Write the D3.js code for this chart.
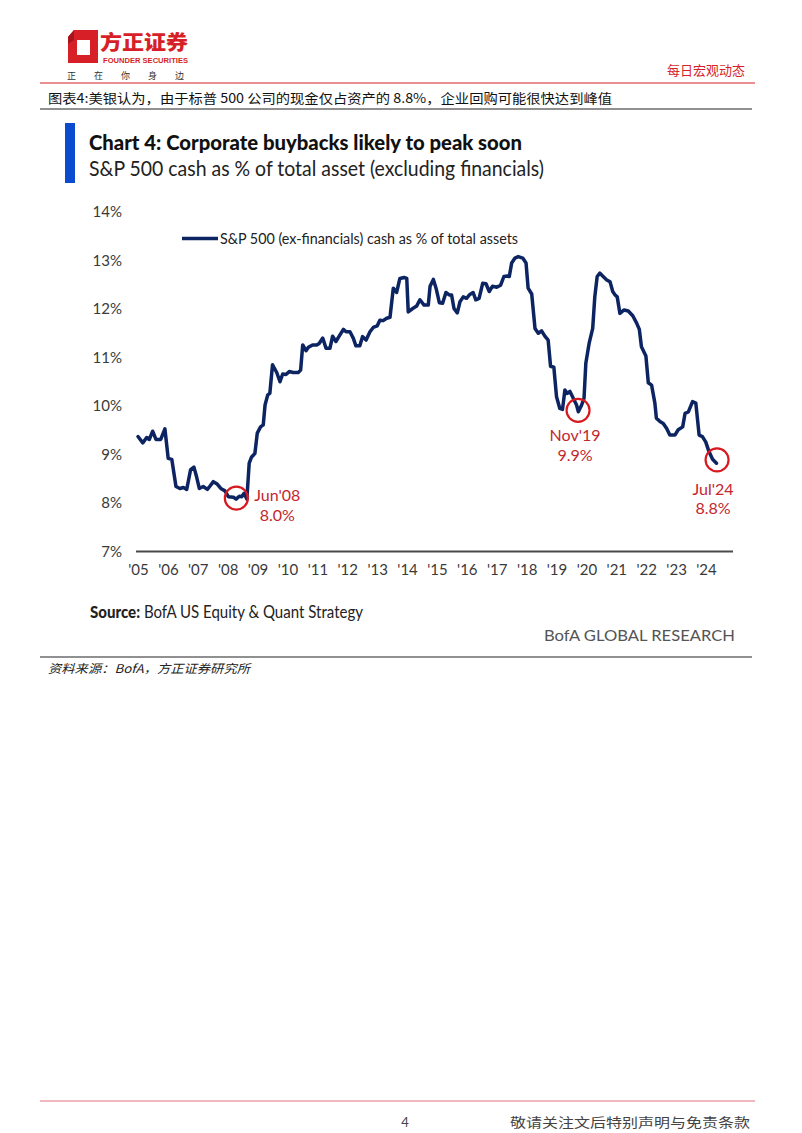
<!DOCTYPE html>
<html><head><meta charset="utf-8">
<script src="https://cdn.jsdelivr.net/npm/d3@7"></script>
<style>
html,body{margin:0;padding:0;background:#fff;}
svg{display:block;}
</style></head>
<body>
<script>
// ---------- DATA ----------
const years = [2005.00,2005.16,2005.29,2005.38,2005.49,2005.60,2005.76,2005.90,2006.01,2006.13,2006.27,2006.40,2006.52,2006.63,2006.76,2006.87,2006.96,2007.05,2007.18,2007.32,2007.41,2007.52,2007.65,2007.77,2007.91,2008.02,2008.19,2008.28,2008.39,2008.47,2008.55,2008.64,2008.72,2008.80,2008.91,2008.99,2009.10,2009.19,2009.25,2009.34,2009.41,2009.50,2009.64,2009.75,2009.84,2009.95,2010.06,2010.19,2010.36,2010.44,2010.51,2010.62,2010.70,2010.84,2010.98,2011.06,2011.18,2011.29,2011.42,2011.51,2011.62,2011.73,2011.87,2011.96,2012.09,2012.20,2012.29,2012.42,2012.51,2012.63,2012.76,2012.87,2013.00,2013.09,2013.20,2013.32,2013.43,2013.54,2013.65,2013.76,2013.90,2013.99,2014.04,2014.19,2014.32,2014.43,2014.57,2014.71,2014.77,2014.88,2014.97,2015.08,2015.19,2015.30,2015.41,2015.49,2015.57,2015.68,2015.77,2015.88,2015.99,2016.10,2016.21,2016.30,2016.41,2016.53,2016.64,2016.75,2016.86,2017.00,2017.13,2017.24,2017.35,2017.42,2017.50,2017.61,2017.72,2017.87,2017.98,2018.05,2018.17,2018.28,2018.39,2018.50,2018.61,2018.72,2018.80,2018.91,2019.00,2019.11,2019.20,2019.28,2019.36,2019.45,2019.56,2019.67,2019.73,2019.84,2019.92,2019.98,2020.09,2020.21,2020.28,2020.36,2020.45,2020.56,2020.68,2020.79,2020.88,2020.96,2021.03,2021.12,2021.26,2021.40,2021.55,2021.68,2021.77,2021.84,2021.99,2022.07,2022.18,2022.29,2022.34,2022.46,2022.57,2022.68,2022.79,2022.96,2023.07,2023.22,2023.30,2023.41,2023.55,2023.66,2023.77,2023.88,2023.99,2024.10,2024.22,2024.35];
const cashPct = [9.37,9.24,9.35,9.31,9.48,9.31,9.31,9.53,8.92,8.90,8.34,8.30,8.32,8.28,8.69,8.74,8.54,8.30,8.34,8.28,8.35,8.44,8.39,8.30,8.25,8.13,8.12,8.08,8.14,8.13,8.20,8.08,8.82,8.95,9.02,9.44,9.57,9.61,10.02,10.23,10.26,10.85,10.69,10.50,10.66,10.65,10.71,10.69,10.69,10.74,11.26,11.14,11.21,11.26,11.26,11.29,11.40,11.19,11.19,11.44,11.33,11.44,11.58,11.53,11.53,11.40,11.24,11.24,11.43,11.36,11.53,11.62,11.65,11.77,11.76,11.81,11.83,12.43,12.34,12.63,12.65,12.63,11.94,12.01,12.06,12.19,12.08,12.08,12.47,12.61,12.43,12.13,12.12,12.34,12.29,12.29,12.01,11.92,12.15,12.25,12.22,12.30,12.34,12.19,12.22,12.53,12.52,12.36,12.47,12.45,12.49,12.67,12.68,12.67,12.95,13.05,13.08,13.05,12.95,12.43,12.31,11.60,11.50,11.55,11.44,11.36,10.82,10.80,10.19,9.95,9.93,10.33,10.26,10.30,10.16,10.02,9.88,10.02,10.16,10.88,11.29,11.60,12.25,12.67,12.74,12.67,12.60,12.56,12.36,12.29,12.25,11.91,11.98,11.96,11.86,11.71,11.58,11.22,11.03,10.48,10.43,10.06,9.75,9.68,9.64,9.54,9.40,9.40,9.51,9.57,9.85,9.88,10.09,10.06,9.40,9.37,9.26,9.06,8.90,8.82];
const yTicks = [7,8,9,10,11,12,13,14];
const yTickLabels = ["7%","8%","9%","10%","11%","12%","13%","14%"];
const xTicks = [2005,2006,2007,2008,2009,2010,2011,2012,2013,2014,2015,2016,2017,2018,2019,2020,2021,2022,2023,2024];
const xTickLabels = ["'05","'06","'07","'08","'09","'10","'11","'12","'13","'14","'15","'16","'17","'18","'19","'20","'21","'22","'23","'24"];
const annoYears = [2008.29, 2019.72, 2024.37];
const annoValues = [8.10, 9.91, 8.89];
const annoNames = ["Jun'08","Nov'19","Jul'24"];
const annoPcts = ["8.0%","9.9%","8.8%"];
const seriesName = "S&P 500 (ex-financials) cash as % of total assets";

// ---------- SETUP ----------
const W = 802, H = 1133;
const svg = d3.select("body").append("svg").attr("width", W).attr("height", H);
const LAT = "Lato, 'Open Sans', sans-serif";
const CJK = "'Noto Sans CJK SC', sans-serif";
function fit(sel, w){ sel.attr("textLength", w).attr("lengthAdjust","spacingAndGlyphs"); return sel; }

// ---------- PAGE HEADER ----------
const red = "#d71f27";
svg.append("path").attr("d","M74,30 L98,30 L98,63 L68,63 L68,37 Z").attr("fill", red);
svg.append("rect").attr("x",77).attr("y",40).attr("width",13).attr("height",15).attr("fill","#fff");
svg.append("path").attr("d","M68,37 L74,30 L74,40 L68,44 Z").attr("fill","#a8141b");
svg.append("text").attr("x",100).attr("y",50).attr("font-family",CJK).attr("font-weight",900)
  .attr("font-size",20).attr("fill",red).text("方正证券").call(fit, 88);
svg.append("text").attr("x",103).attr("y",63).attr("font-family","'Liberation Sans', Arial, sans-serif").attr("font-weight",700)
  .attr("font-size",7).attr("fill",red).text("FOUNDER SECURITIES").call(fit, 85);
const slogan = ["正","在","你","身","边"];
slogan.forEach((c,i)=> svg.append("text").attr("x",67+i*27).attr("y",79).attr("font-family",CJK)
  .attr("font-size",9).attr("fill","#333").text(c));
svg.append("text").attr("x",745).attr("y",75).attr("text-anchor","end").attr("font-family",CJK)
  .attr("font-size",13).attr("fill",red).text("每日宏观动态");
svg.append("line").attr("x1",40).attr("x2",755).attr("y1",83).attr("y2",83).attr("stroke",red).attr("stroke-width",1.2);

// caption
svg.append("text").attr("x",48).attr("y",103).attr("font-family",CJK).attr("font-size",13).attr("fill","#111")
  .text("图表4:美银认为，由于标普 500 公司的现金仅占资产的 8.8%，企业回购可能很快达到峰值").call(fit, 564);
svg.append("line").attr("x1",40).attr("x2",752).attr("y1",109).attr("y2",109).attr("stroke","#222").attr("stroke-width",1.2);

// ---------- CHART TITLE ----------
svg.append("rect").attr("x",65).attr("y",123).attr("width",10).attr("height",60).attr("fill","#0a4bd0");
svg.append("text").attr("x",89).attr("y",150).attr("font-family",LAT).attr("font-weight",900)
  .attr("font-size",21).attr("fill","#111").text("Chart 4: Corporate buybacks likely to peak soon").call(fit, 433);
svg.append("text").attr("x",89).attr("y",176).attr("font-family",LAT)
  .attr("font-size",21.5).attr("fill","#222").text("S&P 500 cash as % of total asset (excluding financials)").call(fit, 455);

// ---------- SCALES ----------
const x = d3.scaleLinear().domain([2005, 2024]).range([138, 706]);
const y = d3.scaleLinear().domain([7, 14]).range([551.5, 212]);

// y axis
const yAx = svg.append("g").attr("transform","translate(122,0)")
  .call(d3.axisLeft(y).tickValues(yTicks).tickSize(0).tickPadding(0).tickFormat((d,i)=>yTickLabels[i]));
yAx.select(".domain").remove();
yAx.selectAll("text").attr("font-family",LAT).attr("font-size",15).attr("fill","#3a3a3a");

// x axis
const xAx = svg.append("g").attr("transform","translate(0,560)")
  .call(d3.axisBottom(x).tickValues(xTicks).tickSize(0).tickPadding(0).tickFormat((d,i)=>xTickLabels[i]));
xAx.select(".domain").remove();
xAx.selectAll("text").attr("font-family",LAT).attr("font-size",15).attr("fill","#3a3a3a").attr("dy","1em");
svg.append("line").attr("x1",136).attr("x2",733).attr("y1",y(7)).attr("y2",y(7)).attr("stroke","#4a4a4a").attr("stroke-width",2);

// ---------- LINE ----------
const pts = years.map((yr,i)=>[yr, cashPct[i]]);
const line = d3.line().x(d=>x(d[0])).y(d=>y(d[1]));
svg.append("path").attr("d", line(pts)).attr("fill","none").attr("stroke","#0c2461")
  .attr("stroke-width",3.5).attr("stroke-linejoin","round").attr("stroke-linecap","round");

// legend
svg.append("line").attr("x1",182).attr("x2",218).attr("y1",238.5).attr("y2",238.5).attr("stroke","#0c2461").attr("stroke-width",3.4);
svg.append("text").attr("x",220).attr("y",244).attr("font-family",LAT).attr("font-size",15.5).attr("fill","#222")
  .text(seriesName).call(fit, 298);

// ---------- ANNOTATIONS ----------
const annoColor = "#c4262e";
const labelDx = [41, -3, -4];
const labelDy1 = [3, 31, 35];
annoYears.forEach((yr,i)=>{
  const cx = x(yr), cy = y(annoValues[i]);
  svg.append("circle").attr("cx",cx).attr("cy",cy).attr("r",11.5).attr("fill","none")
    .attr("stroke","#d71920").attr("stroke-width",2.2);
  const g = svg.append("g").attr("font-family",LAT).attr("font-size",16).attr("fill",annoColor).attr("text-anchor","middle");
  g.append("text").attr("x",cx+labelDx[i]).attr("y",cy+labelDy1[i]).text(annoNames[i]);
  g.append("text").attr("x",cx+labelDx[i]).attr("y",cy+labelDy1[i]+19.5).text(annoPcts[i]);
});

// ---------- SOURCE ----------
const src = svg.append("text").attr("x",90).attr("y",618).attr("font-family",LAT).attr("font-size",16.5).attr("fill","#222");
src.append("tspan").attr("font-weight",900).text("Source:");
src.append("tspan").text(" BofA US Equity & Quant Strategy");
src.call(fit, 273);
svg.append("text").attr("x",735).attr("y",641).attr("text-anchor","end").attr("font-family",LAT).attr("font-size",16)
  .attr("fill","#555").text("BofA GLOBAL RESEARCH").call(fit, 191);
svg.append("line").attr("x1",40).attr("x2",752).attr("y1",657).attr("y2",657).attr("stroke","#222").attr("stroke-width",1.2);
svg.append("text").attr("x",48).attr("y",673).attr("font-family",CJK).attr("font-size",12).attr("font-style","italic")
  .attr("fill","#222").text("资料来源：BofA，方正证券研究所").call(fit, 202);

// ---------- FOOTER ----------
svg.append("line").attr("x1",40).attr("x2",755).attr("y1",1101).attr("y2",1101).attr("stroke","#e4707f").attr("stroke-width",1.2);
svg.append("text").attr("x",405).attr("y",1127).attr("text-anchor","middle").attr("font-family",LAT).attr("font-size",13)
  .attr("fill","#444").text("4");
svg.append("text").attr("x",510).attr("y",1127).attr("font-family",CJK).attr("font-size",13)
  .attr("fill","#444").text("敬请关注文后特别声明与免责条款").call(fit, 240);
</script>
</body></html>
